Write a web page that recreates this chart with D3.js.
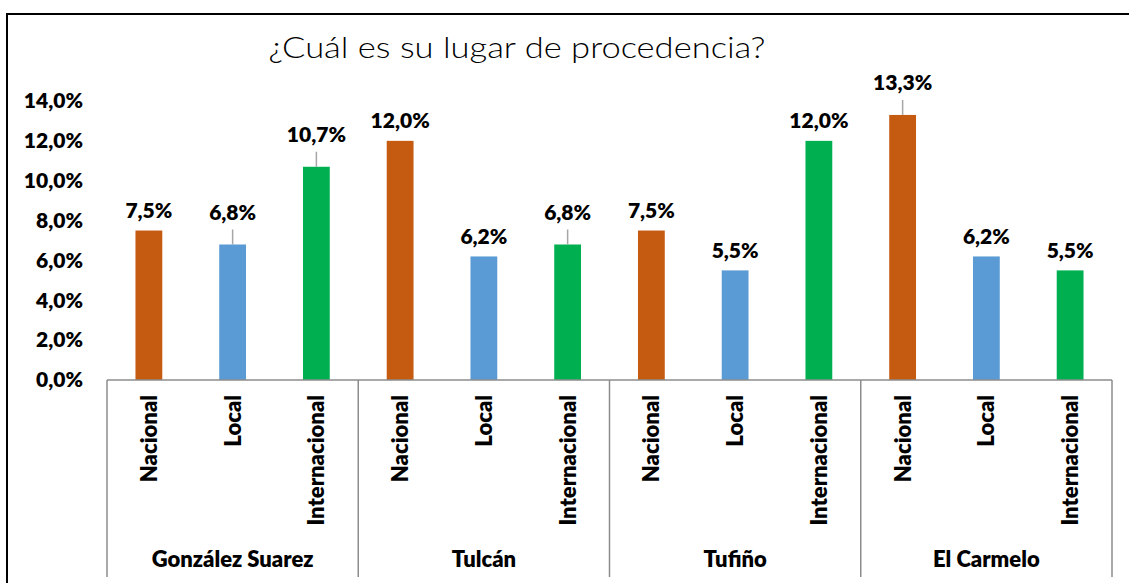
<!DOCTYPE html>
<html lang="es">
<head>
    <meta charset="UTF-8">
    <title>Procedencia</title>
    <style>
        body { margin: 0; background: #fff; }
        text { font-family: Lato, "Open Sans", sans-serif; fill: #000; }
    </style>
</head>
<body>
    <div class="container"></div>
    <script src="https://cdn.jsdelivr.net/npm/d3@7/dist/d3.min.js"></script>
    <script>
        // Data
        const groups = ["González Suarez", "Tulcán", "Tufiño", "El Carmelo"]
        const types = ["Nacional", "Local", "Internacional"]
        const nacional = [7.5, 12.0, 7.5, 13.3]
        const local = [6.8, 6.2, 5.5, 6.2]
        const internacional = [10.7, 6.8, 12.0, 5.5]
        const yTicks = [0, 2, 4, 6, 8, 10, 12, 14]

        // labels that Excel pushed up and joined with a leader line
        const withLeader = ["González Suarez|Local", "González Suarez|Internacional",
                            "Tulcán|Internacional", "El Carmelo|Nacional"]

        const colors = { Nacional: "#C55A11", Local: "#5B9BD5", Internacional: "#00B050" }

        // Setup config
        const width = 1129
        const height = 583
        const plotLeft = 107
        const plotRight = 1112
        const plotTop = 101
        const plotBottom = 380
        const labelAreaBottom = 577
        const boldWeight = 800

        const svg = d3.select(".container")
                    .append("svg")
                    .attr("width", width)
                    .attr("height", height)

        // Outer chart border (only top and left are visible)
        svg.append("path")
            .attr("d", `M7,${height + 10}V14H${width + 10}`)
            .attr("fill", "none")
            .attr("stroke", "#000")
            .attr("stroke-width", 2)

        // Title
        svg.append("text")
            .attr("x", 517)
            .attr("y", 58)
            .attr("text-anchor", "middle")
            .attr("font-family", "Lato, sans-serif")
            .attr("font-size", 30)
            .attr("font-weight", 300)
            .attr("fill", "#111")
            .attr("textLength", 497)
            .attr("lengthAdjust", "spacingAndGlyphs")
            .text("¿Cuál es su lugar de procedencia?")

        // Build rows
        const rows = []
        groups.forEach((g, i) => {
            rows.push({ group: g, type: "Nacional", value: nacional[i] })
            rows.push({ group: g, type: "Local", value: local[i] })
            rows.push({ group: g, type: "Internacional", value: internacional[i] })
        })

        // Scales
        const x0 = d3.scaleBand()
                    .domain(groups)
                    .range([plotLeft, plotRight])
        const x1 = d3.scaleBand()
                    .domain(types)
                    .range([0, x0.bandwidth()])
                    .paddingInner(0.68)
                    .paddingOuter(0.34)
        const y = d3.scaleLinear()
                    .domain([0, 14])
                    .range([plotBottom, plotTop])

        const fmt = v => d3.format(".1f")(v).replace(".", ",") + "%"

        // Left axis: labels only
        const leftAxis = d3.axisLeft(y)
                        .tickValues(yTicks)
                        .tickSize(0)
                        .tickPadding(0)
                        .tickFormat(fmt)
        const leftAxisGroup = svg.append("g")
                        .attr("transform", "translate(83,0)")
                        .call(leftAxis)
        leftAxisGroup.select(".domain").remove()
        leftAxisGroup.selectAll("text")
                    .attr("font-family", "Lato, sans-serif")
                    .attr("font-size", 21)
                    .attr("font-weight", boldWeight)
                    .attr("fill", "#000")

        // Bars
        const chart = svg.append("g")
        chart.selectAll("rect")
            .data(rows)
            .join("rect")
            .attr("x", d => x0(d.group) + x1(d.type))
            .attr("y", d => y(d.value))
            .attr("width", x1.bandwidth())
            .attr("height", d => y(0) - y(d.value))
            .attr("fill", d => colors[d.type])

        const cx = d => x0(d.group) + x1(d.type) + x1.bandwidth() / 2
        const hasLeader = d => withLeader.includes(d.group + "|" + d.type)

        // Leader lines
        chart.selectAll("line.leader")
            .data(rows.filter(hasLeader))
            .join("line")
            .attr("class", "leader")
            .attr("x1", cx)
            .attr("x2", cx)
            .attr("y1", d => y(d.value) - 15)
            .attr("y2", d => y(d.value))
            .attr("stroke", "#a6a6a6")
            .attr("stroke-width", 1.5)

        // Value labels
        chart.selectAll("text.value")
            .data(rows)
            .join("text")
            .attr("class", "value")
            .attr("x", cx)
            .attr("y", d => y(d.value) - (hasLeader(d) ? 32 : 20))
            .attr("dy", "0.35em")
            .attr("text-anchor", "middle")
            .attr("font-size", 21)
            .attr("font-weight", boldWeight)
            .text(d => fmt(d.value))

        // Bottom axis line and group separators
        const axisColor = "#8c8c8c"
        svg.append("line")
            .attr("x1", plotLeft)
            .attr("x2", plotRight)
            .attr("y1", plotBottom)
            .attr("y2", plotBottom)
            .attr("stroke", axisColor)
            .attr("stroke-width", 1.5)

        const bounds = groups.map(g => x0(g)).concat([x0(groups[groups.length - 1]) + x0.bandwidth()])
        svg.selectAll("line.sep")
            .data(bounds)
            .join("line")
            .attr("class", "sep")
            .attr("x1", d => d)
            .attr("x2", d => d)
            .attr("y1", plotBottom)
            .attr("y2", labelAreaBottom)
            .attr("stroke", axisColor)
            .attr("stroke-width", 1.5)

        // Category labels (rotated)
        svg.selectAll("text.cat")
            .data(rows)
            .join("text")
            .attr("class", "cat")
            .attr("transform", d => `translate(${cx(d)},395) rotate(-90)`)
            .attr("dy", "0.36em")
            .attr("text-anchor", "end")
            .attr("font-size", 22)
            .attr("font-weight", boldWeight)
            .text(d => d.type)

        // Group labels
        svg.selectAll("text.grp")
            .data(groups)
            .join("text")
            .attr("class", "grp")
            .attr("x", d => x0(d) + x0.bandwidth() / 2)
            .attr("y", 567)
            .attr("text-anchor", "middle")
            .attr("font-size", 22)
            .attr("font-weight", boldWeight)
            .text(d => d)
    </script>
</body>
</html>
